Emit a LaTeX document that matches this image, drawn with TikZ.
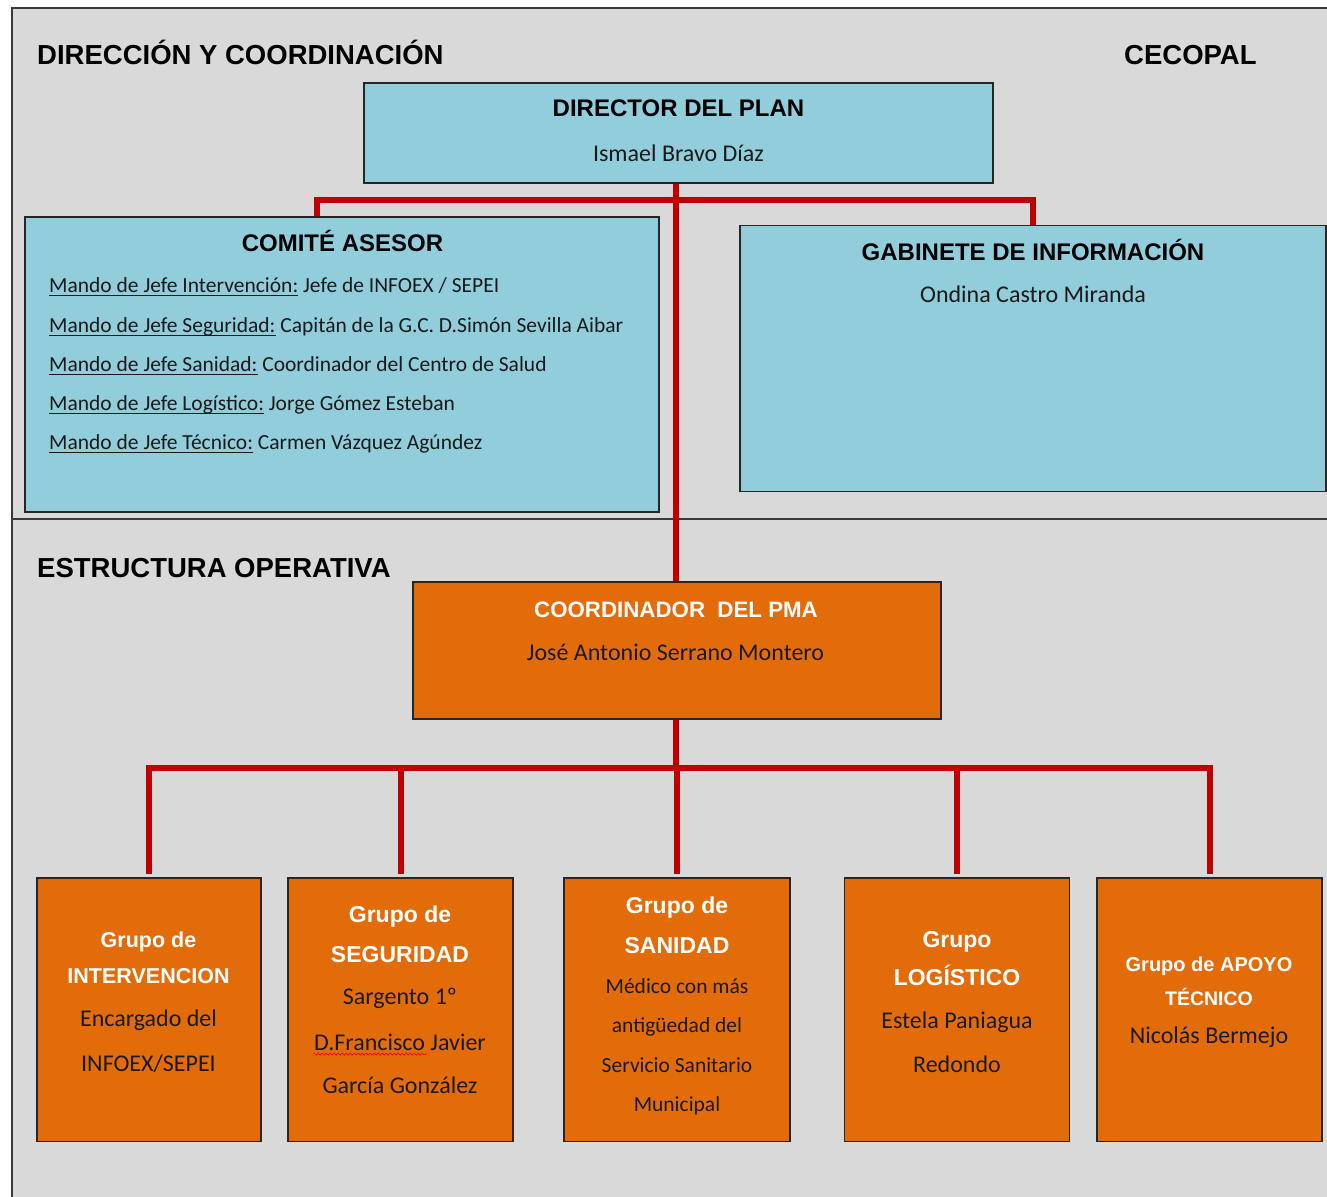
\documentclass[tikz,border=0pt]{standalone}
\usepackage{fontspec}
\setmainfont{Carlito}
\newfontfamily\arialf{Liberation Sans}
\usetikzlibrary{decorations.pathmorphing}
\definecolor{bgray}{HTML}{D9D9D9}
\definecolor{bluef}{HTML}{92CDDC}
\definecolor{orangef}{HTML}{E36C0A}
\definecolor{redl}{HTML}{C00000}
\definecolor{framec}{HTML}{3A3A3A}
\definecolor{txtc}{HTML}{1A1A1A}
\newcommand\fsz[1]{\fontsize{#1pt}{#1pt}\selectfont}
\newcommand\myul[1]{\setbox0\hbox{#1}\rlap{\rule[-4.2pt]{\wd0}{1.4pt}}\box0\relax}
\tikzset{
  bbox/.style={draw=black!85, line width=1.8pt, fill=bluef, inner sep=0pt},
  obox/.style={draw=black!85, line width=1.8pt, fill=orangef, inner sep=0pt},
  redline/.style={draw=redl, line width=6pt},
  txt/.style={inner sep=0pt, anchor=base, text=txtc},
  hd/.style={txt, anchor=base west, text=black, font=\arialf\bfseries\fsz{27.5}},
  btitle/.style={txt, text=black, font=\arialf\bfseries\fsz{24}},
  bname/.style={txt, font=\fsz{24}},
  cline/.style={txt, anchor=base west, font=\fsz{21.5}},
  otitle/.style={txt, text=white, font=\arialf\bfseries\fsz{#1}},
  obody/.style={txt, font=\fsz{#1}}
}
\begin{document}
\begin{tikzpicture}[x=1pt,y=-1pt]
\useasboundingbox (0,0) rectangle (1327,1196);
\clip (0,0) rectangle (1327,1196);
\fill[white] (0,0) rectangle (1327,1196);
\draw[framec, line width=2.2pt, fill=bgray] (12,8) rectangle (1350,1220);
\draw[framec, line width=2pt] (12,519) -- (1350,519);

% headings
\node[hd] (h1) at (37,65) {DIRECCIÓN Y COORDINACIÓN};
\node[hd] (h2) at (1124,65) {CECOPAL};
\node[hd] (h3) at (37,577) {ESTRUCTURA OPERATIVA};

% boxes
\node[bbox, minimum width=629pt, minimum height=100pt] (dir) at (678.5,133) {};
\node[bbox, minimum width=634pt, minimum height=295pt] (comite) at (342,364.5) {};
\node[bbox, minimum width=586pt, minimum height=266pt] (gab) at (1033,358.5) {};
\node[obox, minimum width=528pt, minimum height=137pt] (coord) at (677,650.5) {};
\node[obox, minimum width=224pt, minimum height=263.5pt] (g1) at (149,1009.75) {};
\node[obox, minimum width=225pt, minimum height=263.5pt] (g2) at (400.5,1009.75) {};
\node[obox, minimum width=226pt, minimum height=263.5pt] (g3) at (677,1009.75) {};
\node[obox, minimum width=225pt, minimum height=263.5pt] (g4) at (957,1009.75) {};
\node[obox, minimum width=225pt, minimum height=263.5pt] (g5) at (1209.5,1009.75) {};

% connectors
\coordinate (jt) at (676,200);
\coordinate (ca) at (317,200);
\coordinate (jb) at (676,768);
\draw[redline] (comite.north -| ca) -- (ca) -| (gab.north);
\draw[redline] (dir.south -| jt) -- (coord.north -| jt);
\draw[redline] (coord.south -| jb) -- (jb);
\draw[redline, shorten <=3pt] (g1.north) |- (jb);
\draw[redline, shorten <=3pt] (g2.north) |- (jb);
\draw[redline, shorten <=3pt] (g3.north) |- (jb);
\draw[redline, shorten <=3pt] (g4.north) |- (jb);
\draw[redline, shorten <=3pt] (g5.north) |- (jb);

% director
\node[btitle] (dirt) at (678.5,117) {DIRECTOR DEL PLAN};
\node[bname] (dirn) at (678.5,161) {Ismael Bravo Díaz};

% comite
\node[btitle] (comt) at (342.5,251) {COMITÉ ASESOR};
\node[cline] (c1) at (49,292) {\myul{Mando de Jefe Intervención:} Jefe de INFOEX / SEPEI};
\node[cline] (c2) at (49,332) {\myul{Mando de Jefe Seguridad:} Capitán de la G.C. D.Simón Sevilla Aibar};
\node[cline] (c3) at (49,371) {\myul{Mando de Jefe Sanidad:} Coordinador del Centro de Salud};
\node[cline] (c4) at (49,410) {\myul{Mando de Jefe Logístico:} Jorge Gómez Esteban};
\node[cline] (c5) at (49,449) {\myul{Mando de Jefe Técnico:} Carmen Vázquez Agúndez};

% gabinete
\node[btitle] (gabt) at (1033,260) {GABINETE DE INFORMACIÓN};
\node[bname] (gabn) at (1033,302) {Ondina Castro Miranda};

% coordinador
\node[otitle=22.3] (coot) at (676,617) {COORDINADOR\ \ DEL PMA};
\node[obody=24] (coon) at (675.5,660) {José Antonio Serrano Montero};

% grupo 1
\node[otitle=21.5] (g1a) at (148.5,947) {Grupo de};
\node[otitle=21.5] (g1b) at (148.5,983) {INTERVENCION};
\node[obody=24] (g1c) at (148.5,1026) {Encargado del};
\node[obody=24] (g1d) at (148.5,1071) {INFOEX/SEPEI};

% grupo 2
\node[otitle=23] (g2a) at (400,922) {Grupo de};
\node[otitle=23] (g2b) at (400,962) {SEGURIDAD};
\node[obody=24] (g2c) at (400,1004) {Sargento 1º};
\node[obody=24] (g2d) at (400,1050) {D.Francisco Javier};
\node[obody=24] (g2e) at (400,1093) {García González};
\draw[red, line width=0.7pt, decorate, decoration={snake, amplitude=1pt, segment length=4pt}] (313,1054) -- (427,1054);

% grupo 3
\node[otitle=23] (g3a) at (677,913) {Grupo de};
\node[otitle=23] (g3b) at (677,953) {SANIDAD};
\node[obody=21.5] (g3c) at (677,993) {Médico con más};
\node[obody=21.5] (g3d) at (677,1032) {antigüedad del};
\node[obody=21.5] (g3e) at (677,1072) {Servicio Sanitario};
\node[obody=21.5] (g3f) at (677,1111) {Municipal};

% grupo 4
\node[otitle=23] (g4a) at (957,947) {Grupo};
\node[otitle=23] (g4b) at (957,985) {LOGÍSTICO};
\node[obody=24] (g4c) at (957,1028) {Estela Paniagua};
\node[obody=24] (g4d) at (957,1072) {Redondo};

% grupo 5
\node[otitle=20] (g5a) at (1209,971) {Grupo de APOYO};
\node[otitle=19.5] (g5b) at (1209,1005) {TÉCNICO};
\node[obody=24] (g5c) at (1209,1043) {Nicolás Bermejo};
\end{tikzpicture}
\end{document}
